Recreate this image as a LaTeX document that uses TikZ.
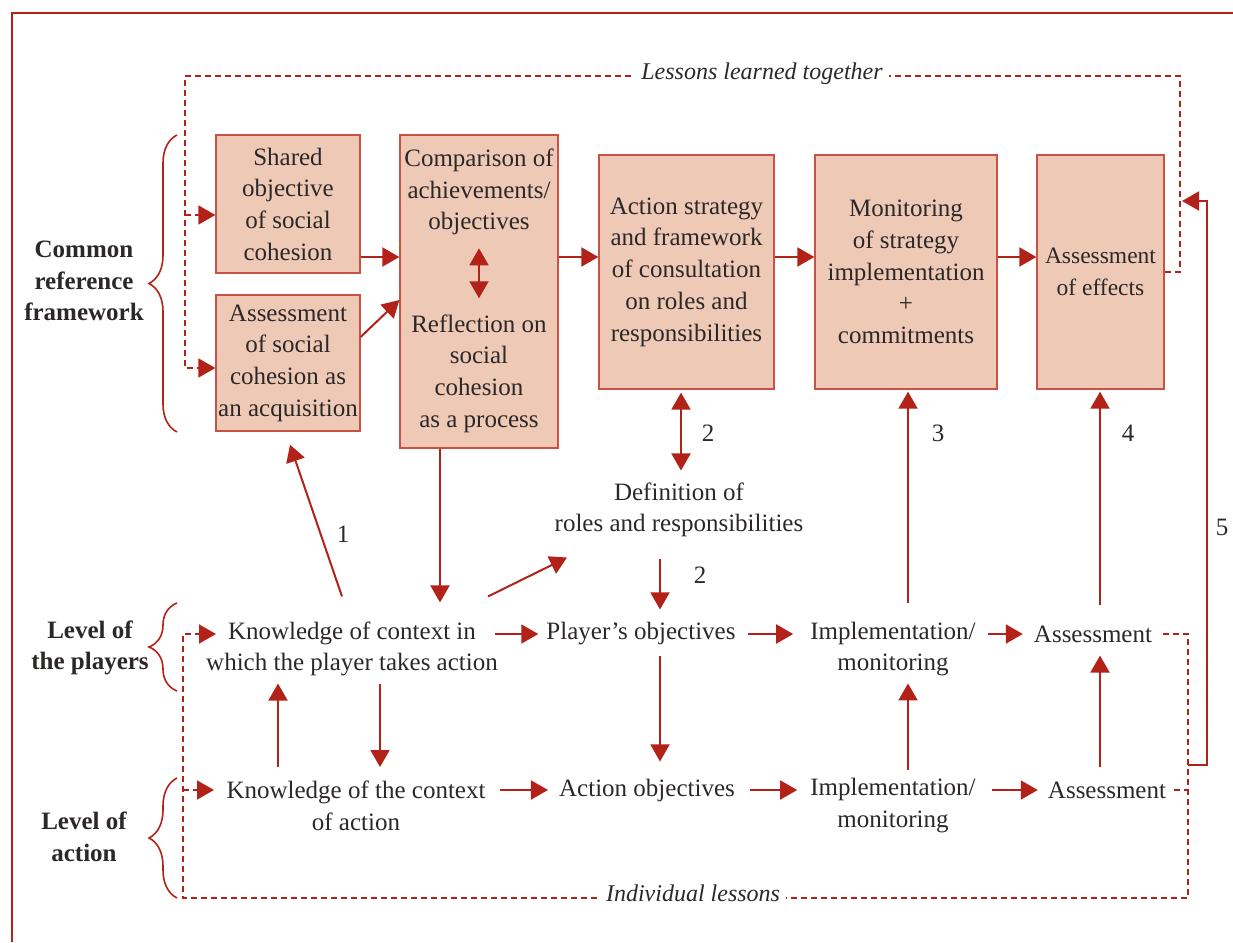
\documentclass[tikz,border=0pt]{standalone}
\usepackage{fontspec}
\setmainfont{Liberation Serif}
\usetikzlibrary{arrows.meta,decorations.pathreplacing,calc}
\definecolor{red1}{RGB}{178,34,24}
\definecolor{boxfill}{RGB}{237,201,182}
\definecolor{boxline}{RGB}{201,82,70}
\definecolor{ink}{RGB}{45,40,40}
\newcommand{\fsz}{\fontsize{25}{31.7}\selectfont}
\newcommand{\fszs}{\fontsize{23.5}{31.7}\selectfont}
\newcommand{\itfs}{\fontsize{24}{30}\selectfont\itshape}

\begin{document}
\begin{tikzpicture}[x=1pt,y=-1pt,
  box/.style={draw=boxline, fill=boxfill, line width=1.3pt, align=center, inner sep=0pt, font=\fsz, text=ink},
  txt/.style={align=center, font=\fsz, text=ink, inner sep=2pt},
  head/.style={align=center, font=\fsz\bfseries, text=ink},
  num/.style={font=\fsz, text=ink},
  tip/.tip={Triangle[length=17pt,width=19pt]},
  arr/.style={draw=red1, line width=2pt, -tip},
  twoway/.style={draw=red1, line width=2pt, tip-tip},
  lesson/.style={draw=red1, line width=1.6pt, dash pattern=on 6pt off 4pt},
  lessonarr/.style={lesson, -tip},
  bracket/.style={draw=red1, line width=1.6pt, decorate, decoration={brace, amplitude=28pt}},
  tag/.style={fill=white, font=\itfs, text=ink, inner sep=6pt},
]
\useasboundingbox (0,0) rectangle (1233,942);

% outer frame
\draw[red1, line width=2.5pt] (12,942) -- (12,13) -- (1233,13);

% common reference framework boxes
\node[box, minimum width=144pt, minimum height=138pt] (shared) at (288,204) {Shared\\objective\\of social\\cohesion};
\node[box, minimum width=144pt, minimum height=136pt] (asb) at (288,363) {Assessment\\of social\\cohesion as\\an acquisition};
\node[box, minimum width=158pt, minimum height=313pt] (cmp) at (479,291.5) {};
\node[txt] (cmpTop) at (479,192) {Comparison of\\achievements/\\objectives};
\node[txt] (cmpBot) at (479,373.5) {Reflection on\\social\\cohesion\\as a process};
\node[box, minimum width=175pt, minimum height=234pt] (act) at (686.5,272) {Action strategy\\and framework\\of consultation\\on roles and\\responsibilities};
\node[box, minimum width=182pt, minimum height=234pt] (mon) at (906,272) {Monitoring\\of strategy\\implementation\\+\\commitments};
\node[box, minimum width=127pt, minimum height=234pt, font=\fszs] (eff) at (1100.5,272) {Assessment\\of effects};

% side headings and braces
\node[head] (crf) at (84,281) {Common\\reference\\framework};
\node[head] (lp) at (90,648) {Level of\\the players};
\node[head] (la) at (84,836.5) {Level of\\action};
\draw[bracket] (177,432) -- (177,135);
\draw[bracket] (177,691) -- (177,603);
\draw[bracket] (177,898) -- (177,778);

% middle and lower texts
\node[txt] (def) at (679,510) {Definition of\\roles and responsibilities};
\node[txt] (kp) at (352,649) {Knowledge of context in\\which the player takes action};
\node[txt] (po) at (641,634) {Player’s objectives};
\node[txt] (ip) at (893,649) {Implementation/\\monitoring};
\node[txt] (ap) at (1093,634) {Assessment};
\node[txt] (ka) at (356,805.5) {Knowledge of the context\\of action};
\node[txt] (ao) at (647,790) {Action objectives};
\node[txt] (ia) at (893,805.5) {Implementation/\\monitoring};
\node[txt] (aa) at (1107,790) {Assessment};

% numbers
\node[num] (n1) at (343,534) {1};
\node[num] (n2a) at (708,433) {2};
\node[num] (n2b) at (700,575) {2};
\node[num] (n3) at (938,433) {3};
\node[num] (n4) at (1128,433) {4};
\node[num] (n5) at (1222,527) {5};

% arrows between the upper boxes
\draw[arr] (shared.east |- 0,257) -- (cmp.west |- 0,257);
\draw[arr] (asb.east |- 0,337) -- (cmp.west |- 0,300);
\draw[arr] (cmp.east |- 0,257) -- (act.west |- 0,257);
\draw[arr] (act.east |- 0,257) -- (mon.west |- 0,257);
\draw[arr] (mon.east |- 0,257) -- (eff.west |- 0,257);
\draw[twoway, shorten <=11pt, shorten >=14pt] (cmpTop.south) -- (cmpBot.north);

% links between the levels
\draw[twoway, shorten <=3pt, shorten >=10pt] ($(act.south)+(-5.5,0)$) -- ($(def.north)+(2,0)$);
\draw[arr, shorten <=19pt, shorten >=11pt] ($(def.south)+(-19,0)$) -- ($(po.north)+(19,0)$);
\draw[arr, shorten <=8pt, shorten >=15pt] ($(po.south)+(19,0)$) -- ($(ao.north)+(13,0)$);
\draw[arr] ($(cmp.south)+(-39,0)$) -- ($(kp.north)+(88,-17)$);
\draw[arr] ($(kp.north)+(136,-23)$) -- ($(def.south)+(-112,18)$);
\draw[arr] ($(kp.north)+(-10,-23)$) -- ($(asb.south)+(2,13)$);
\draw[arr] ($(ip.north)+(15,-17)$) -- ($(mon.south)+(2,2)$);
\draw[arr] ($(ap.north)+(7,-18)$) -- ($(eff.south)+(-0.5,2)$);
\draw[arr] ($(ia.north)+(15,-6)$) -- ($(ip.south)+(15,5)$);
\draw[arr] ($(aa.north)+(-7,-12)$) -- ($(ap.south)+(7,11)$);
\draw[arr] ($(ka.north)+(-78,-11.5)$) -- ($(kp.south)+(-74,5)$);
\draw[arr] ($(kp.south)+(28,5)$) -- ($(ka.north)+(24,-11.5)$);

% rows
\draw[arr] ($(kp.east)+(-5,-15)$) -- ($(po.west)+(-6,0)$);
\draw[arr, shorten <=10pt, shorten >=15pt] (po.east) -- (ip.west |- po.east);
\draw[arr, shorten <=10pt, shorten >=9pt] (ip.east |- ap.west) -- (ap.west);
\draw[arr, shorten <=12pt, shorten >=9pt] (ka.east |- ao.west) -- (ao.west);
\draw[arr, shorten <=13pt, shorten >=11pt] (ao.east) -- (ia.west |- ao.east);
\draw[arr, shorten <=14pt, shorten >=8pt] (ia.east |- aa.west) -- (aa.west);

% lessons learned together
\coordinate (tl) at (185,76);
\coordinate (tr) at (1180,76);
\draw[lessonarr] (eff.east) -| (tr) -- (tl) |- (asb.west |- 0,368);
\draw[lessonarr] (tl |- 0,215) -- (shared.west |- 0,215);
\node[tag] (llt) at (762,74) {Lessons learned together};

% individual lessons
\coordinate (br) at (1188,898);
\coordinate (bl) at (183,898);
\coordinate (kpIn) at (216,634);
\coordinate (kaIn) at (214,790);
\draw[lessonarr, shorten <=9pt] (ap.east) -| (br) -- (bl) |- (kpIn);
\draw[lessonarr] (bl |- kaIn) -- (kaIn);
\draw[lesson, shorten <=6pt] (aa.east) -- (br |- aa.east);
\node[tag] (il) at (693,893) {Individual lessons};

% loop 5
\coordinate (f1) at (1188,765);
\coordinate (f2) at (1207,765);
\coordinate (f3) at (1207,201);
\coordinate (f4) at (1182,201);
\draw[arr] (f1) -- (f2) -- (f3) -- (f4);
\end{tikzpicture}
\end{document}
